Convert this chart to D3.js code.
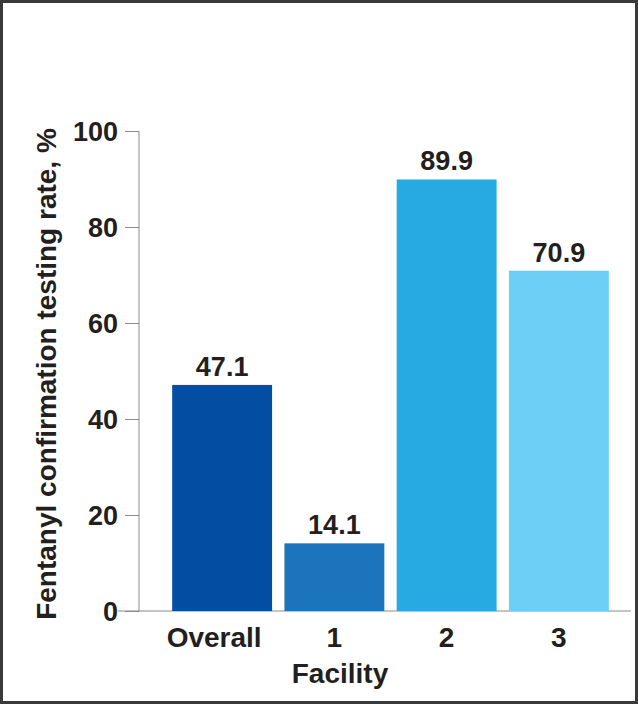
<!DOCTYPE html>
<html>
<head>
<meta charset="utf-8">
<script src="https://cdn.jsdelivr.net/npm/d3@7"></script>
<style>
	body { margin: 0; background: #fff; }
	svg { display: block; font-family: "Liberation Sans", Arial, Helvetica, sans-serif; }
</style>
</head>
<body>
<svg id="chart" width="638" height="704"></svg>
<script>
// DATA
const CATEGORIES = ["Overall", "1", "2", "3"];
const VALUES = [47.1, 14.1, 89.9, 70.9];
const LABELS = ["47.1", "14.1", "89.9", "70.9"];
const BARCOLORS = ["#034ea2", "#1c75bc", "#27a9e1", "#6dcff6"];
const YTICKS = [0, 20, 40, 60, 80, 100];

let svg = d3.select("#chart");
let width = 638;
let height = 704;

// frame
svg.append("rect")
	.attr("x", 1.5).attr("y", 1.5)
	.attr("width", width - 3).attr("height", height - 3)
	.attr("fill", "#fff")
	.attr("stroke", "#3a3a3a")
	.attr("stroke-width", 3);

// SCALES
let x = d3.scaleBand().domain(CATEGORIES).range([166, 615]).paddingInner(0.11).paddingOuter(0.055);
let y = d3.scaleLinear().domain([0, 100]).range([611, 131]);

// y axis
let yAxis = svg.append("g")
	.attr("transform", "translate(139,0)")
	.call(d3.axisLeft(y).tickValues(YTICKS).tickSize(14).tickPadding(7));

yAxis.select(".domain").attr("stroke", "#8a8a8a").attr("d", `M0,${y(100)}V${y(0)}`);
yAxis.selectAll(".tick line").attr("stroke", "#8a8a8a");
yAxis.selectAll(".tick text")
	.attr("fill", "#231f20")
	.style("font-size", "27px")
	.style("font-weight", "bold")
	.attr("dy", "0.36em");

// baseline
svg.append("line")
	.attr("x1", 118).attr("x2", 631)
	.attr("y1", y(0)).attr("y2", y(0))
	.attr("stroke", "#8a8a8a");

// bars
let bars = svg.selectAll(".bar")
	.data(CATEGORIES)
	.enter()
	.append("g")
	.attr("class", "bar");

bars.append("rect")
	.attr("x", d => x(d))
	.attr("width", x.bandwidth())
	.attr("y", (d, i) => y(VALUES[i]))
	.attr("height", (d, i) => y(0) - y(VALUES[i]))
	.attr("fill", (d, i) => BARCOLORS[i]);

bars.append("text")
	.attr("x", d => x(d) + x.bandwidth() / 2)
	.attr("y", (d, i) => y(VALUES[i]) - 9)
	.attr("text-anchor", "middle")
	.attr("fill", "#231f20")
	.style("font-size", "27px")
	.style("font-weight", "bold")
	.text((d, i) => LABELS[i]);

// x labels ("Overall" sits a little left of its bar centre)
svg.selectAll(".xlabel")
	.data(CATEGORIES)
	.enter()
	.append("text")
	.attr("class", "xlabel")
	.attr("x", (d, i) => x(d) + x.bandwidth() / 2 - (i == 0 ? 8 : 0))
	.attr("y", 647)
	.attr("text-anchor", "middle")
	.attr("fill", "#231f20")
	.style("font-size", "28px")
	.style("font-weight", "bold")
	.text(d => d);

// axis titles
svg.append("text")
	.attr("x", 340)
	.attr("y", 683)
	.attr("text-anchor", "middle")
	.attr("fill", "#231f20")
	.style("font-size", "28px")
	.style("font-weight", "bold")
	.text("Facility");

svg.append("text")
	.attr("transform", "translate(56,374) rotate(-90)")
	.attr("text-anchor", "middle")
	.attr("fill", "#231f20")
	.style("font-size", "28px")
	.style("font-weight", "bold")
	.text("Fentanyl confirmation testing rate, %");
</script>
</body>
</html>
